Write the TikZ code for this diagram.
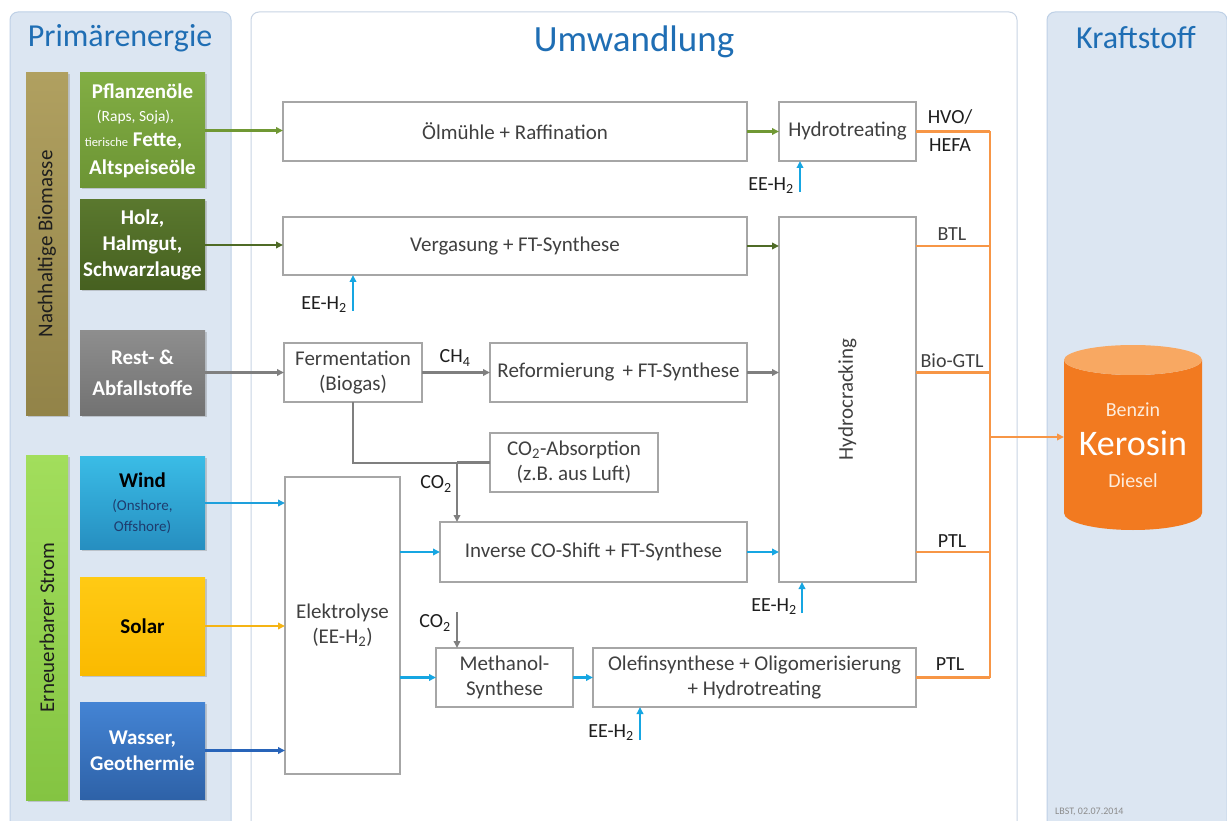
\documentclass[tikz,border=0pt]{standalone}
\usepackage{fontspec}
\setmainfont{Carlito}
\usetikzlibrary{arrows.meta,shadows}
\definecolor{panelbg}{RGB}{220,230,242}
\definecolor{panelln}{RGB}{190,208,230}
\definecolor{midln}{RGB}{200,212,228}
\definecolor{titleblue}{RGB}{31,110,180}
\definecolor{boxln}{RGB}{166,166,166}
\definecolor{boxtxt}{RGB}{64,64,64}
\definecolor{lbltxt}{RGB}{30,30,30}
\definecolor{grayarr}{RGB}{127,127,127}
\definecolor{cyanarr}{RGB}{22,166,226}
\definecolor{orangeln}{RGB}{247,150,70}
\definecolor{cylbody}{RGB}{242,122,32}
\definecolor{cyltop}{RGB}{248,168,98}
\definecolor{cyltext}{RGB}{253,236,220}
\definecolor{pflarr}{RGB}{112,152,52}
\definecolor{holzarr}{RGB}{79,107,38}
\definecolor{windarr}{RGB}{30,160,220}
\definecolor{solararr}{RGB}{245,180,20}
\definecolor{wasserarr}{RGB}{40,100,185}
\definecolor{windsub}{RGB}{30,60,110}
\tikzset{
  proc/.style={draw=boxln, line width=1.3pt, fill=white, text=boxtxt,
    font=\fontsize{21}{25}\selectfont, align=center, inner sep=0pt, outer sep=0pt},
  srcbox/.style={inner sep=0pt, outer sep=0pt, align=center, minimum width=125pt,
    font=\bfseries\fontsize{21}{26}\selectfont,
    drop shadow={shadow xshift=1.5pt, shadow yshift=-1.5pt, opacity=0.35}},
  barbox/.style={inner sep=0pt, outer sep=0pt, minimum width=42pt,
    drop shadow={shadow xshift=1.5pt, shadow yshift=-1.5pt, opacity=0.35}},
  arr/.style={line width=2.2pt, -{Triangle[length=7pt,width=6.5pt]}},
  ln/.style={line width=2.2pt},
  lbl/.style={text=lbltxt, font=\fontsize{20}{24}\selectfont, inner sep=0pt},
  ttl/.style={text=titleblue, font=\fontsize{32}{38}\selectfont, inner sep=0pt},
  olab/.style={text=lbltxt, font=\fontsize{20}{24}\selectfont, inner sep=0pt},
  cyltxt/.style={text=cyltext, inner sep=0pt, font=\fontsize{20}{24}\selectfont},
}
\newcommand{\rapssz}{\mdseries\fontsize{15.5}{18}\selectfont}
\newcommand{\tiersz}{\mdseries\fontsize{12.5}{15}\selectfont}
\newcommand{\windsz}{\mdseries\color{windsub}\fontsize{15}{19}\selectfont}
\begin{document}
\begin{tikzpicture}[x=1pt,y=-1pt]
\useasboundingbox (0,0) rectangle (1227,821);
\fill[white] (0,0) rectangle (1227,821);
% panels
\filldraw[fill=panelbg, draw=panelln, line width=1pt]
  (10,821) -- (10,20) arc[start angle=180,end angle=270,radius=8]
  -- (223,12) arc[start angle=270,end angle=360,radius=8] -- (231,821);
\filldraw[fill=white, draw=midln, line width=1pt]
  (251,821) -- (251,20) arc[start angle=180,end angle=270,radius=8]
  -- (1009,12) arc[start angle=270,end angle=360,radius=8] -- (1017,821);
\filldraw[fill=panelbg, draw=panelln, line width=1pt]
  (1047,821) -- (1047,20) arc[start angle=180,end angle=270,radius=8]
  -- (1219,12) arc[start angle=270,end angle=360,radius=8] -- (1227,821);
% titles
\node[ttl] (tprim) at (120,38) {Primärenergie};
\node[ttl, font=\fontsize{37}{44}\selectfont] (tumw) at (634,42) {Umwandlung};
\node[ttl] (tkraft) at (1136,38) {Kraftstoff};
% bars
\node[barbox, minimum height=342pt, top color={rgb,255:red,176;green,160;blue,96}, bottom color={rgb,255:red,146;green,131;blue,72},
  label={[rotate=90, text=lbltxt, font=\fontsize{21}{25}\selectfont]center:Nachhaltige Biomasse}] (bio) at (47,244) {};
\node[barbox, minimum height=345pt, top color={rgb,255:red,162;green,222;blue,92}, bottom color={rgb,255:red,132;green,196;blue,66},
  label={[rotate=90, text=lbltxt, font=\fontsize{21}{25}\selectfont]center:Erneuerbarer Strom}] (strom) at (47,627.5) {};
% source boxes
\node[srcbox, minimum height=115pt, text=white, top color={rgb,255:red,130;green,174;blue,68}, bottom color={rgb,255:red,108;green,148;blue,52}] (pfl) at (142.5,130.5)
  {Pflanzenöle\\[-3pt]{\rapssz (Raps, Soja),}\rule{14pt}{0pt}\\[-1pt]{\tiersz tierische} {\fontsize{21}{26}\selectfont Fette,}\rule{18pt}{0pt}\\[2pt]Altspeiseöle};
\node[srcbox, minimum height=90pt, text=white, top color={rgb,255:red,90;green,120;blue,46}, bottom color={rgb,255:red,70;green,96;blue,32}] (holz) at (142.5,245)
  {Holz,\\Halmgut,\\Schwarzlauge};
\node[srcbox, minimum height=85pt, text=white, font=\bfseries\fontsize{21}{31}\selectfont, top color={rgb,255:red,142;green,142;blue,142}, bottom color={rgb,255:red,114;green,114;blue,114}] (rest) at (142.5,372.5)
  {Rest- \&\\Abfallstoffe};
\node[srcbox, minimum height=93pt, text=black, top color={rgb,255:red,58;green,188;blue,230}, bottom color={rgb,255:red,38;green,142;blue,192}] (wind) at (142.5,503)
  {Wind\\[-3pt]{\windsz (Onshore,}\\[-5pt]{\windsz Offshore)}};
\node[srcbox, minimum height=98pt, text=black, top color={rgb,255:red,255;green,202;blue,20}, bottom color={rgb,255:red,250;green,186;blue,0}] (solar) at (142.5,626)
  {Solar};
\node[srcbox, minimum height=97pt, text=white, top color={rgb,255:red,68;green,132;blue,212}, bottom color={rgb,255:red,46;green,98;blue,168}] (wasser) at (142.5,750.5)
  {Wasser,\\Geothermie};
% process boxes
\node[proc, minimum width=464pt, minimum height=59pt] (oel) at (515,131.5) {Ölmühle + Raffination};
\node[proc, minimum width=464pt, minimum height=58pt] (verg) at (515,246) {Vergasung + FT-Synthese};
\node[proc, minimum width=137pt, minimum height=59pt] (hydt) at (847.5,131.5) {Hydrotreating};
\node[proc, minimum width=137pt, minimum height=365pt] (hydc) at (847.5,399.5) {};
\node[proc, draw=none, fill=none, rotate=90] (hydctxt) at (hydc.center) {Hydrocracking};
\node[proc, minimum width=138pt, minimum height=59pt] (ferm) at (353,372.5) {Fermentation\\(Biogas)};
\node[proc, minimum width=257pt, minimum height=59pt] (ref) at (618.5,372.5) {Reformierung \,+ FT-Synthese};
\node[proc, minimum width=168pt, minimum height=59pt] (co2a) at (574,462.5) {CO\textsubscript{2}-Absorption\\(z.B. aus Luft)};
\node[proc, minimum width=115pt, minimum height=297pt] (elek) at (342.5,625.5) {Elektrolyse\\(EE-H\textsubscript{2})};
\node[proc, minimum width=307pt, minimum height=60pt] (inv) at (593.5,552) {Inverse CO-Shift + FT-Synthese};
\node[proc, minimum width=137pt, minimum height=59pt] (meth) at (504.5,677.5) {Methanol-\\Synthese};
\node[proc, minimum width=323pt, minimum height=59pt] (olef) at (754.5,677.5) {Olefinsynthese + Oligomerisierung\\+ Hydrotreating};
% cylinder
\fill[cylbody] (1064,360) -- (1064,513) arc[start angle=180,end angle=0,x radius=69,y radius=17]
  -- (1202,360) arc[start angle=0,end angle=180,x radius=69,y radius=15] -- cycle;
\fill[cyltop] (1133,360) ellipse[x radius=69, y radius=15];
\node[minimum width=138pt, minimum height=185pt, inner sep=0pt, outer sep=0pt] (cyl) at (1133,437) {};
\node[cyltxt] (benzin) at (1133,410) {Benzin};
\node[cyltxt, text=white, font=\fontsize{36}{40}\selectfont] (kerosin) at (1133,443) {Kerosin};
\node[cyltxt] (diesel) at (1133,481) {Diesel};
% source connectors
\draw[arr, pflarr] (pfl.east) -- (pfl.east -| oel.west);
\draw[arr, holzarr] (holz.east) -- (holz.east -| verg.west);
\draw[arr, grayarr] (rest.east) -- (rest.east -| ferm.west);
\draw[arr, windarr] (wind.east) -- (wind.east -| elek.west);
\draw[arr, solararr] (solar.east) -- (solar.east -| elek.west);
\draw[arr, wasserarr] (wasser.east) -- (wasser.east -| elek.west);
% process connectors
\draw[arr, pflarr] (oel.east) -- (hydt.west);
\draw[arr, holzarr] (verg.east) -- (verg.east -| hydc.west);
\draw[arr, grayarr] (ferm.east) -- (ref.west);
\node[lbl] (ch4) at (455,358) {CH\textsubscript{4}};
\draw[arr, grayarr] (ref.east) -- (ref.east -| hydc.west);
\coordinate (junc) at (457,463);
\draw[ln, grayarr, line width=2.6pt] (ferm.south) |- (junc);
\draw[ln, grayarr, line width=2.6pt] (co2a.west) -- (co2a.west -| junc);
\draw[arr, grayarr, line width=2.6pt] (junc) -- (junc |- inv.north);
\node[lbl] (co2l1) at (436,484) {CO\textsubscript{2}};
\draw[arr, cyanarr] (elek.east |- inv.west) -- (inv.west);
\draw[arr, cyanarr] (inv.east) -- (inv.east -| hydc.west);
\draw[arr, cyanarr] (elek.east |- meth.west) -- (meth.west);
\draw[arr, cyanarr] (meth.east) -- (olef.west);
\coordinate (co2m) at (457,612);
\draw[arr, grayarr] (co2m) -- (co2m |- meth.north);
\node[lbl] (co2l2) at (435,623) {CO\textsubscript{2}};
% EE-H2 feeds
\coordinate (h1) at (800,192);
\draw[arr, cyanarr] (h1) -- (h1 |- hydt.south);
\node[lbl, anchor=east] (eeh1) at (794,186) {EE-H\textsubscript{2}};
\coordinate (h2) at (353,311);
\draw[arr, cyanarr] (h2) -- (h2 |- verg.south);
\node[lbl, anchor=east] (eeh2) at (347,305) {EE-H\textsubscript{2}};
\coordinate (h3) at (802,613);
\draw[arr, cyanarr] (h3) -- (h3 |- hydc.south);
\node[lbl, anchor=east] (eeh3) at (797,607) {EE-H\textsubscript{2}};
\coordinate (h4) at (640,740);
\draw[arr, cyanarr] (h4) -- (h4 |- olef.south);
\node[lbl, anchor=east] (eeh4) at (634,733) {EE-H\textsubscript{2}};
% outputs
\coordinate (bus) at (990,435);
\draw[orangeln, line width=2.8pt] (hydt.east) -- (hydt.east -| bus);
\draw[orangeln, line width=2.8pt] (hydc.east |- verg.east) -- (bus |- verg.east);
\draw[orangeln, line width=2.8pt] (hydc.east |- ref.east) -- (bus |- ref.east);
\draw[orangeln, line width=2.8pt] (hydc.east |- inv.east) -- (bus |- inv.east);
\draw[orangeln, line width=2.8pt] (olef.east) -- (bus |- olef.east);
\draw[orangeln, line width=2.8pt] (bus |- hydt.east) -- (bus |- olef.east);
\draw[orangeln, line width=2.2pt, -{Triangle[length=7pt,width=6.5pt]}] (bus |- cyl.west) -- (cyl.west);
\node[olab] (hvo) at (950,117) {HVO/};
\node[olab] (hefa) at (950,145) {HEFA};
\node[olab, text=boxtxt] (btl) at (952,234) {BTL};
\node[olab, text=boxtxt] (biogtl) at (952,361) {Bio-GTL};
\node[olab] (ptl1) at (952,541) {PTL};
\node[olab] (ptl2) at (950,664) {PTL};
\node[text={rgb,255:red,140;green,140;blue,140}, font=\fontsize{10}{12}\selectfont, anchor=west, inner sep=0pt] (lbst) at (1055,812) {LBST, 02.07.2014};
\end{tikzpicture}
\end{document}
